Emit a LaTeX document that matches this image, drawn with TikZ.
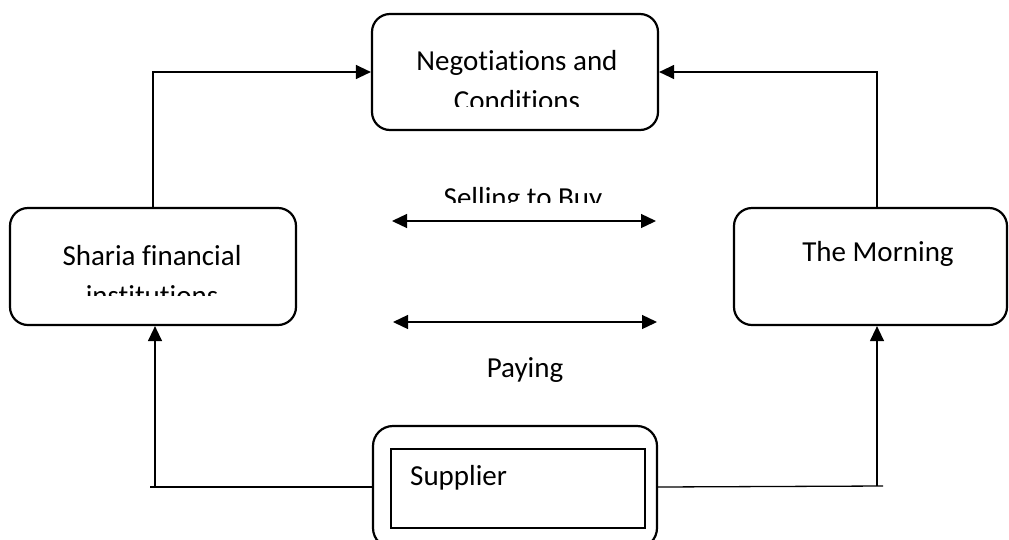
\documentclass[tikz,border=0pt]{standalone}
\usepackage{fontspec}
\setmainfont{Carlito}[Ligatures=NoCommon]
\usetikzlibrary{arrows.meta}

\begin{document}
\begin{tikzpicture}[
    x=1pt, y=-1pt,
    box/.style={draw, line width=2.2pt, rounded corners=18pt, inner sep=0pt},
    lbl/.style={font=\fontsize{29}{40}\selectfont, align=center, inner sep=0pt},
    flow/.style={line width=1.3pt, -{Triangle[length=15pt,width=14pt]}},
    twoway/.style={line width=1.3pt, {Triangle[length=15pt,width=14pt]}-{Triangle[length=15pt,width=14pt]}},
    plain/.style={line width=1.3pt}
]
\useasboundingbox (0,0) rectangle (1009,539);

% Kotak
\node[box, minimum width=286pt, minimum height=116pt] (nego) at (515,72) {};
\node[box, minimum width=286pt, minimum height=117pt] (sharia) at (153,266.5) {};
\node[box, minimum width=273pt, minimum height=117pt] (morning) at (870.5,266.5) {};
\node[box, minimum width=284pt, minimum height=122pt, rounded corners=20pt] (supplier) at (515,487) {};
\node[draw, line width=1.6pt, minimum width=254pt, minimum height=79pt, inner sep=0pt] (inner) at (518,488.5) {};

% Teks (terpotong seperti aslinya)
\begin{scope}
\clip (372,14) rectangle (658,106);
\node[lbl, anchor=base] (negotxt) at (517,110) {Negotiations and\\Conditions};
\end{scope}
\begin{scope}
\clip (10,208) rectangle (296,295);
\node[lbl, anchor=base] (shariatxt) at (152,305) {Sharia financial\\institutions};
\end{scope}
\node[lbl, anchor=base] (morningtxt) at (878,261) {The Morning};
\begin{scope}
\clip (380,160) rectangle (670,202);
\node[lbl, anchor=base] (selltxt) at (523,207) {Selling to Buy};
\end{scope}
\node[lbl, anchor=base] (paytxt) at (525,377) {Paying};
\node[lbl, anchor=base west] (supptxt) at (410,485) {Supplier};

% Titik bantu
\coordinate (lcorner) at (155,487);
\coordinate (lend) at (150,487);
\coordinate (rcorner) at (877,486);
\coordinate (rend) at (883,486);
\coordinate (sellL) at (392,221);
\coordinate (sellR) at (656,221);
\coordinate (payL) at (393,322);
\coordinate (payR) at (657,322);

% Panah
\draw[flow] (sharia.north) |- (nego.west);
\draw[flow] ([xshift=6.5pt]morning.north) |- (nego.east);
\draw[plain] (supplier.west) -- (lend);
\draw[flow] (lcorner) -- (lcorner |- sharia.south);
\draw[plain] (supplier.east) -- (rend);
\draw[flow] (rcorner) -- (rcorner |- morning.south);
\draw[twoway] (sellL) -- (sellR);
\draw[twoway] (payL) -- (payR);
\end{tikzpicture}
\end{document}
